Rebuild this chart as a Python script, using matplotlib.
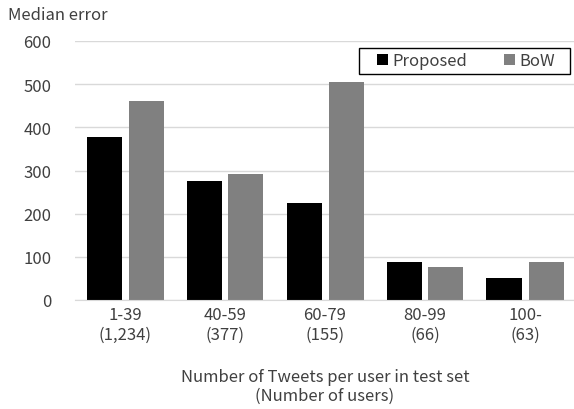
import matplotlib
matplotlib.use("Agg")
import matplotlib.pyplot as plt
from matplotlib.patches import Rectangle
import numpy as np

plt.rcParams['font.family'] = ['Noto Sans CJK JP', 'DejaVu Sans']

categories = ["1-39\n(1,234)", "40-59\n(377)", "60-79\n(155)", "80-99\n(66)", "100-\n(63)"]
proposed = [378, 275, 225, 88, 52]
bow = [462, 291, 504, 76, 87]

W, H = 574, 410
fig = plt.figure(figsize=(W / 100, H / 100), dpi=100)
ax = fig.add_axes([75 / W, 1 - 301 / H, 500 / W, 259 / H])

x = np.arange(len(categories))
w = 0.35
ax.bar(x - 0.035 - w / 2, proposed, w, color="black", label="Proposed")
ax.bar(x + 0.035 + w / 2, bow, w, color="#808080", label="BoW")

ax.set_xlim(-0.5, len(categories) - 0.5)
ax.set_ylim(0, 600)
ax.set_yticks(range(0, 601, 100))
ax.set_xticks(x)
ax.set_xticklabels(categories, fontsize=12, color="#404040", linespacing=1.25)
ax.tick_params(axis="y", labelsize=12, labelcolor="#404040", length=0, pad=17)
ax.tick_params(axis="x", length=0, pad=4)
ax.grid(axis="y", color="#d9d9d9", linewidth=1)
ax.set_axisbelow(True)
for s in ["top", "right", "left"]:
    ax.spines[s].set_visible(False)
ax.spines["bottom"].set_color("#d9d9d9")

ax.set_xlabel("Number of Tweets per user in test set\n(Number of users)",
              fontsize=12, color="#404040", labelpad=18, linespacing=1.15)
fig.text(8 / W, 1 - 15 / H, "Median error", fontsize=12, color="#404040", va="center")

# legend box
fig.patches.append(Rectangle((359 / W, 1 - 75 / H), 211 / W, 26 / H,
                             transform=fig.transFigure, fill=False,
                             edgecolor="black", linewidth=1))
leg = fig.legend(loc="center", bbox_to_anchor=(466 / W, 1 - 62 / H), ncol=2,
                 frameon=False, fontsize=12, handlelength=0.65, handleheight=0.65,
                 handletextpad=0.25, columnspacing=2.2, borderpad=0)
for t in leg.get_texts():
    t.set_color("#404040")

fig.savefig("out.png", dpi=100)
